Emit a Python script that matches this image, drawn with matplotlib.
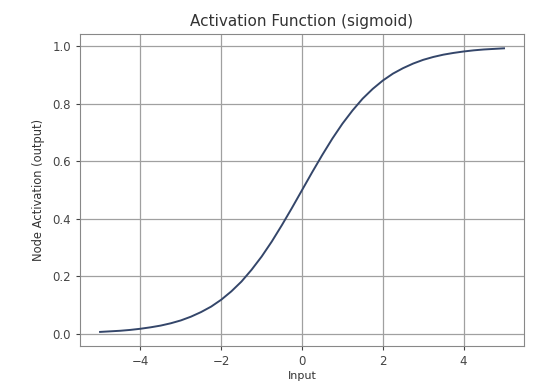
import matplotlib.pyplot as plt

# Values
inputs = [-5.0, -4.75, -4.5, -4.25, -4.0, -3.75, -3.5, -3.25, -3.0, -2.75, -2.5,
          -2.25, -2.0, -1.75, -1.5, -1.25, -1.0, -0.75, -0.5, -0.25, 0.0,
          0.25, 0.5, 0.75, 1.0, 1.25, 1.5, 1.75, 2.0, 2.25, 2.5,
          2.75, 3.0, 3.25, 3.5, 3.75, 4.0, 4.25, 4.5, 4.75, 5.0]
activations = [0.007, 0.009, 0.011, 0.014, 0.018, 0.023, 0.029, 0.037, 0.047, 0.060, 0.076,
               0.095, 0.119, 0.148, 0.182, 0.223, 0.269, 0.321, 0.378, 0.438, 0.500,
               0.562, 0.622, 0.679, 0.731, 0.777, 0.818, 0.852, 0.881, 0.905, 0.924,
               0.940, 0.953, 0.963, 0.971, 0.977, 0.982, 0.986, 0.989, 0.991, 0.993]

fig = plt.figure(figsize=(5.36, 3.88), dpi=100)
ax = fig.add_axes([0.149, 0.108, 0.829, 0.804])
ax.plot(inputs, activations, color='#34466a', linewidth=1.4)

ax.set_title('Activation Function (sigmoid)', fontsize=11, color='#333333')
ax.set_xlabel('Input', fontsize=8, color='#333333', labelpad=2)
ax.set_ylabel('Node Activation (output)', fontsize=8.3, color='#333333', labelpad=5)
ax.tick_params(labelsize=8.5, colors='#444444', length=3)
ax.set_xticks([-4, -2, 0, 2, 4])
ax.grid(True, color='#a0a0a0', linewidth=0.9)
for s in ax.spines.values():
    s.set_color('#888888')

fig.savefig('out.png', dpi=100)
